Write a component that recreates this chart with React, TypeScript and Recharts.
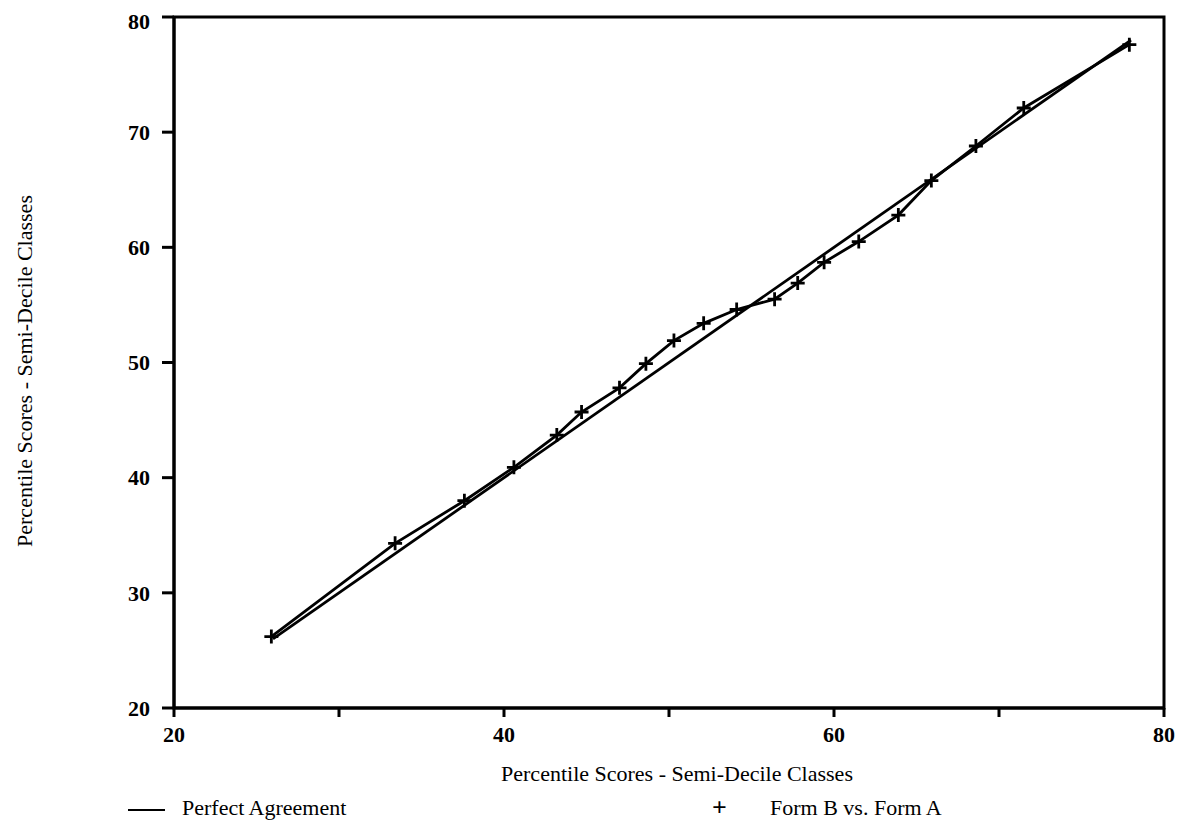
import React from 'react';
import { LineChart, Line, XAxis, YAxis, ReferenceArea } from 'recharts';

const xTicks = [20, 30, 40, 50, 60, 70, 80];
const yTicks = [20, 30, 40, 50, 60, 70, 80];
const labeledXTicks = [20, 40, 60, 80];

const formAScores = [25.9, 33.4, 37.6, 40.6, 43.2, 44.7, 47.0, 48.6, 50.3, 52.1, 54.1, 56.4, 57.8, 59.4, 61.5, 63.9, 65.9, 68.6, 71.5, 77.9];
const formBScores = [26.2, 34.3, 38.0, 40.9, 43.7, 45.7, 47.8, 49.9, 51.9, 53.4, 54.6, 55.5, 56.9, 58.7, 60.5, 62.8, 65.8, 68.8, 72.1, 77.6];
const perfectX = [26, 78];

const formData = formAScores.map((a, i) => ({ x: a, y: formBScores[i] }));
const perfectData = perfectX.map((v) => ({ x: v, y: v }));

const FONT = '"Liberation Serif", "Times New Roman", serif';

const PlusDot = (props: any) => {
  const { cx, cy, index } = props;
  if (cx == null || cy == null) return null;
  return (
    <path
      key={`p-${index}`}
      d={`M${cx - 7},${cy}h14M${cx},${cy - 7}v14`}
      stroke="#000"
      strokeWidth={2.8}
      fill="none"
    />
  );
};

export default function App() {
  return (
    <div style={{ position: 'relative', width: 1172, height: 814, background: '#fff' }}>
      <LineChart width={1172} height={814} margin={{ top: 9, right: 16, left: 106, bottom: 74 }}>
        <XAxis
          xAxisId="b"
          dataKey="x"
          type="number"
          domain={[20, 80]}
          ticks={xTicks}
          tickFormatter={(v: number) => (labeledXTicks.includes(v) ? String(v) : '')}
          allowDataOverflow
          height={40}
          stroke="#000"
          strokeWidth={3}
          tickSize={9}
          tickMargin={9}
          tick={{ fill: '#000', fontFamily: FONT, fontSize: 22, fontWeight: 'bold' }}
        />
        <YAxis
          yAxisId="l"
          type="number"
          domain={[20, 80]}
          ticks={yTicks}
          allowDataOverflow
          width={60}
          stroke="#000"
          strokeWidth={3}
          tickSize={12}
          tickMargin={12}
          tick={{ fill: '#000', fontFamily: FONT, fontSize: 22, fontWeight: 'bold' }}
        />
        <ReferenceArea
          xAxisId="b"
          yAxisId="l"
          x1={20}
          x2={80}
          y1={20}
          y2={80}
          fill="none"
          fillOpacity={0}
          stroke="#000"
          strokeWidth={3}
          ifOverflow="visible"
        />
        <Line
          xAxisId="b"
          yAxisId="l"
          data={perfectData}
          dataKey="y"
          name="Perfect Agreement"
          stroke="#000"
          strokeWidth={2.8}
          dot={false}
          activeDot={false}
          isAnimationActive={false}
          type="linear"
        />
        <Line
          xAxisId="b"
          yAxisId="l"
          data={formData}
          dataKey="y"
          name="Form B vs. Form A"
          stroke="#000"
          strokeWidth={2.8}
          dot={PlusDot}
          activeDot={false}
          isAnimationActive={false}
          type="linear"
        />
      </LineChart>
      {/* X axis title */}
      <div
        style={{
          position: 'absolute',
          left: 677 - 8 - 300,
          top: 774 - 8 - 13,
          width: 600,
          height: 26,
          lineHeight: '26px',
          textAlign: 'center',
          fontFamily: FONT,
          fontSize: 22,
          color: '#000',
        }}
      >
        Percentile Scores - Semi-Decile Classes
      </div>
      {/* Y axis title */}
      <div
        style={{
          position: 'absolute',
          left: 25 - 8 - 300,
          top: 371 - 8 - 13,
          width: 600,
          height: 26,
          lineHeight: '26px',
          textAlign: 'center',
          fontFamily: FONT,
          fontSize: 22,
          color: '#000',
          transform: 'rotate(-90deg)',
        }}
      >
        Percentile Scores - Semi-Decile Classes
      </div>
      {/* Legend */}
      <div style={{ position: 'absolute', left: 0, top: 808 - 8 - 13, width: 1172, height: 26, fontFamily: FONT, fontSize: 22, color: '#000', lineHeight: '26px' }}>
        <div style={{ position: 'absolute', left: 128 - 8, top: 14, width: 37, height: 0, borderTop: '2.5px solid #000' }} />
        <div style={{ position: 'absolute', left: 182 - 8, top: 0, whiteSpace: 'nowrap' }}>Perfect Agreement</div>
        <div style={{ position: 'absolute', left: 712 - 8, top: 0, fontSize: 26, fontWeight: 'bold' }}>+</div>
        <div style={{ position: 'absolute', left: 770 - 8, top: 0, whiteSpace: 'nowrap' }}>Form B vs. Form A</div>
      </div>
    </div>
  );
}
